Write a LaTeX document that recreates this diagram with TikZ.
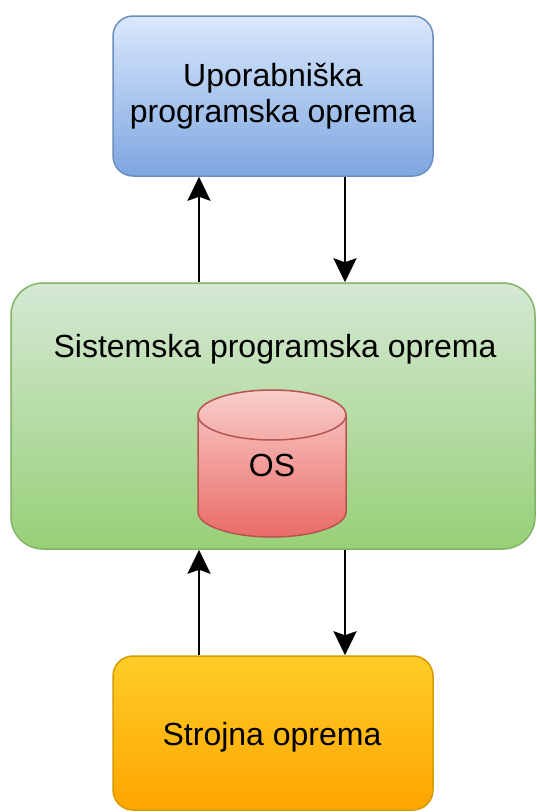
\documentclass[tikz,border=0pt]{standalone}
\usepackage{fontspec}
\setmainfont{Liberation Sans}
\usetikzlibrary{arrows.meta}
\definecolor{blueTop}{HTML}{DAE8FC}
\definecolor{blueBot}{HTML}{7EA6E0}
\definecolor{blueLine}{HTML}{6C8EBF}
\definecolor{greenTop}{HTML}{D5E8D4}
\definecolor{greenBot}{HTML}{97D077}
\definecolor{greenLine}{HTML}{82B366}
\definecolor{redTop}{HTML}{F8CECC}
\definecolor{redBot}{HTML}{EA6B66}
\definecolor{redLine}{HTML}{B85450}
\definecolor{orTop}{HTML}{FFCD28}
\definecolor{orBot}{HTML}{FFA500}
\definecolor{orLine}{HTML}{D79B00}
\tikzset{
  box/.style={rectangle, line width=1.5pt, inner sep=0pt, align=center},
  txt/.style={font=\fontsize{32}{36.5}\selectfont, align=center, inner sep=0pt},
  arr/.style={line width=2.5pt, -{Stealth[length=24pt, width=23pt, inset=4pt]}},
}
\begin{document}
\begin{tikzpicture}[x=1pt,y=1pt]
\useasboundingbox (0,0) rectangle (536,-812);
% top box
\node[box, draw=blueLine, top color=blueTop, bottom color=blueBot, rounded corners=20pt,
      minimum width=320pt, minimum height=160pt] (top) at (273,-96) {};
\node[txt] (toptxt) at (273,-96) {Uporabniška\\programska oprema};
% middle box
\node[box, draw=greenLine, top color=greenTop, bottom color=greenBot, rounded corners=32pt,
      minimum width=524pt, minimum height=266pt] (mid) at (273,-416) {};
\node[txt] (midtxt) at (275,-349) {Sistemska programska oprema};
% cylinder
\path[draw=redLine, line width=1.5pt, top color=redTop, bottom color=redBot]
  (198,-415) -- (198,-512) arc[start angle=180, end angle=360, x radius=74, y radius=25]
  -- (346,-415) arc[start angle=0, end angle=180, x radius=74, y radius=25] -- cycle;
\draw[redLine, line width=1.5pt] (198,-415) arc[start angle=180, end angle=360, x radius=74, y radius=25];
\node[txt] (os) at (272,-465) {OS};
% bottom box
\node[box, draw=orLine, top color=orTop, bottom color=orBot, rounded corners=20pt,
      minimum width=320pt, minimum height=154pt] (bot) at (273,-733) {};
\node[txt] (bottxt) at (272,-737) {Strojna oprema};
% arrows
\coordinate (xl) at (199,0);
\coordinate (xr) at (345,0);
\draw[arr] (xl |- mid.north) -- (xl |- top.south);
\draw[arr] (xr |- top.south) -- (xr |- mid.north);
\draw[arr] (xl |- bot.north) -- (xl |- mid.south);
\draw[arr] (xr |- mid.south) -- (xr |- bot.north);
\end{tikzpicture}
\end{document}
